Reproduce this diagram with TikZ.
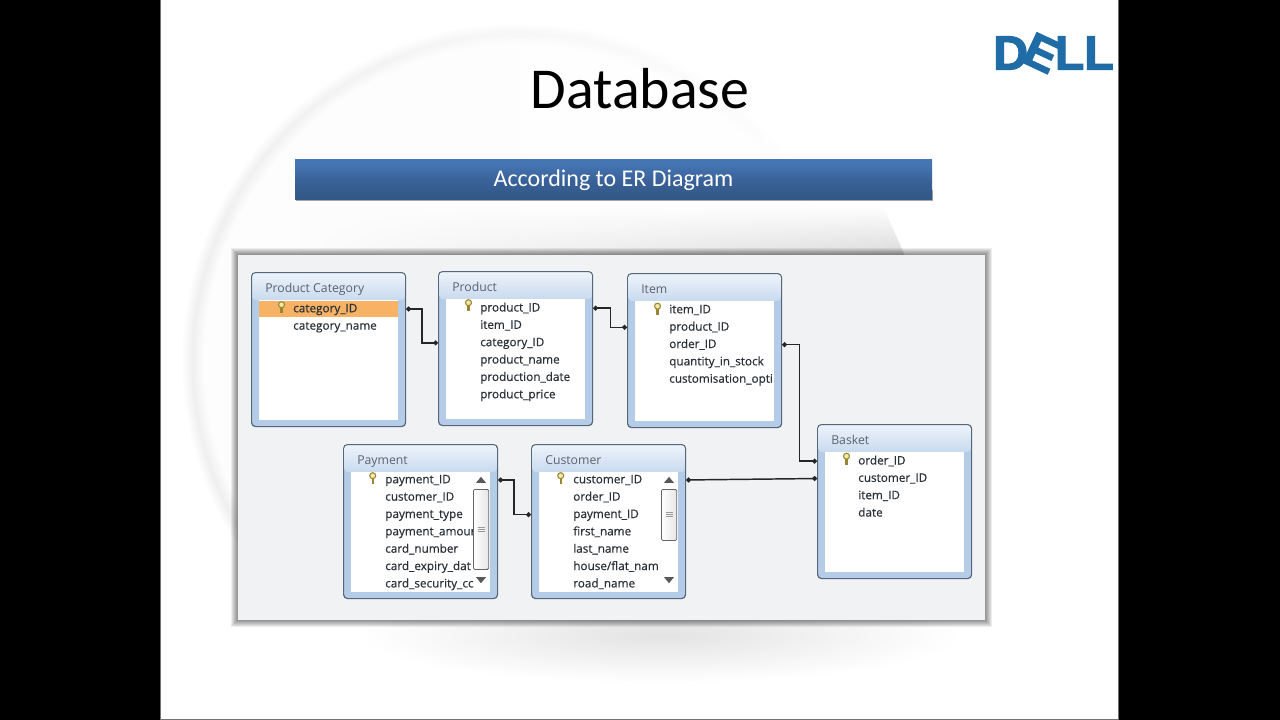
\documentclass[tikz,border=0pt]{standalone}
\usepackage{fontspec}
\setmainfont{Carlito}
\newfontfamily\fieldfont[FakeBold=0.5]{Open Sans}
\newfontfamily\titlefont{Open Sans}
\newfontfamily\logofont[FakeBold=2.5]{Liberation Sans Bold}
\usetikzlibrary{shapes.geometric, arrows.meta, positioning, fit, backgrounds, fadings}
\definecolor{slidepale}{HTML}{FDFDFD}
\definecolor{ringgray}{HTML}{EFEFEF}
\definecolor{panelgray}{HTML}{F1F2F3}
\definecolor{winedge}{HTML}{56677A}
\definecolor{winblue}{HTML}{B5CCE8}
\definecolor{headtop}{HTML}{EDF3FA}
\definecolor{headlow}{HTML}{C9DAEF}
\definecolor{fieldink}{HTML}{2B3138}
\definecolor{titleink}{HTML}{5C636C}
\definecolor{selorange}{HTML}{F7B264}
\definecolor{dellblue}{HTML}{1F6CA6}
\definecolor{keygold}{HTML}{9A8530}
\definecolor{keypale}{HTML}{F3E9A6}
\definecolor{bannerhi}{HTML}{4677B5}
\definecolor{bannermid}{HTML}{3A6299}
\definecolor{bannerlow}{HTML}{325784}
\pgfdeclareverticalshading{bannershade}{100bp}{color(0bp)=(bannerlow); color(25bp)=(bannerlow); color(50bp)=(bannermid); color(72bp)=(bannerhi); color(90bp)=(bannerhi); color(100bp)=(bannermid)}
\pgfdeclareradialshading{ringshade}{\pgfpointorigin}{color(0bp)=(slidepale); color(23.4bp)=(slidepale); color(24.3bp)=(ringgray); color(25bp)=(slidepale); color(50bp)=(slidepale)}

\begin{document}
\begin{tikzpicture}[
    x=0.75pt, y=-0.75pt,
    winbox/.style={rectangle, draw=winedge, line width=0.9pt, fill=winblue, rounded corners=3pt, minimum width=115.5pt, minimum height=115.5pt, anchor=north west, inner sep=0pt},
    winhead/.style={rectangle, top color=headtop, bottom color=headlow, rounded corners=2.5pt, minimum width=114.5pt, minimum height=20pt, anchor=north west, inner sep=0pt},
    winbody/.style={rectangle, fill=white, minimum width=104pt, minimum height=90pt, anchor=north west, inner sep=0pt},
    wintitle/.style={anchor=base west, inner sep=0pt, font=\titlefont\fontsize{9.2}{10}\selectfont, text=titleink},
    field/.style={anchor=base west, inner sep=0pt, text height=7pt, text depth=2pt, font=\fieldfont\fontsize{8.8}{10}\selectfont, text=fieldink},
    scrollthumb/.style={rectangle, draw=gray!80!black, line width=0.6pt, left color=white, right color=gray!20, rounded corners=1pt, minimum width=11.5pt, anchor=north west, inner sep=0pt},
    scrollarrow/.style={isosceles triangle, isosceles triangle stretches, fill=black!65, inner sep=0pt, minimum width=7.5pt, minimum height=4.5pt, shape border rotate=90},
    link/.style={draw=black!85, line width=1.1pt, {Circle[length=3.6pt, width=3.6pt]}-{Circle[length=3.6pt, width=3.6pt]}}
]
    \useasboundingbox (0,0) rectangle (1280,720);

    % --- Slide ---
    \fill [black] (0,0) rectangle (1280,720);
    \fill [white] (160,0) rectangle (1119,720);
    \begin{scope}
        \clip (160,0) rectangle (1119,540);
        \shade [shading=ringshade, path fading=east] (520,360) circle [radius=337];
    \end{scope}
    \begin{scope}
        \clip (160,0) rectangle (1119,720);
        \shade [inner color=black!11, outer color=white] (660,635) ellipse [x radius=300, y radius=48];
        \shade [top color=white, bottom color=black!14, path fading=west] (300,205) -- (883,205) -- (905,255) -- (300,255) -- cycle;
    \end{scope}
    \draw [black!55, line width=0.75pt] (160.5,0) -- (160.5,719) -- (1118.5,719) -- (1118.5,0);

    \node [font=\fontsize{43.4}{48}\selectfont] (heading) at (640,89) {Database};
    \fill [black!35] (296,190) rectangle (933,201.5);
    \node [minimum width=477.75pt, minimum height=30pt, inner sep=0pt, shading=bannershade, text=white, font=\fontsize{18}{20}\selectfont] (banner) at (613.5,180) {\raisebox{-1pt}{According to ER Diagram}};

    % --- Logo ---
    \node [text=dellblue, inner sep=0pt, font=\logofont\fontsize{36}{40}\selectfont] (logo) at (1053.5,53) {\scalebox{1.0}[1]{D\kern-6pt\rotatebox[origin=c]{-25}{E}\kern-6pt LL}};

    % --- Panel ---
    \foreach \d in {1,...,7}
        \fill [black, opacity=0.07] ({238-\d},{255-\d}) rectangle ({985+\d},{620+\d});
    \node [rectangle, fill=panelgray, anchor=north west, minimum width=560.25pt, minimum height=273.75pt, inner sep=0pt] (panel) at (238,255) {};

    % --- Windows ---
    \foreach \id/\wintext/\x/\y in {pcat/Product Category/251/272, prod/Product/438/271, item/Item/627/273, bask/Basket/817/424, pay/Payment/343/444, cust/Customer/531/444} {
        \node [winbox] (\id) at (\x,\y) {};
        \node [winhead] (\id head) at (\x+1,\y+1) {};
        \node [winbody] (\id body) at (\x+8,\y+27.5) {};
        \node [wintitle] (\id title) at (\x+14,\y+20.7) {\wintext};
    }

    % selected row
    \node [rectangle, fill=selorange, anchor=north west, minimum width=104pt, minimum height=12pt, inner sep=0pt] (pcatsel) at (259,301) {};

    % --- Fields ---
    \foreach \txt [count=\i] in {category\_ID, category\_name}
        \node [field] (pcat\i) at (293,{312.3+(\i-1)*17.35}) {\txt};
    \foreach \txt [count=\i] in {product\_ID, item\_ID, category\_ID, product\_name, production\_date, product\_price}
        \node [field] (prod\i) at (480,{311.5+(\i-1)*17.35}) {\txt};
    \foreach \txt [count=\i] in {item\_ID, product\_ID, order\_ID, quantity\_in\_stock, customisation\_opti}
        \node [field] (item\i) at (669,{313.3+(\i-1)*17.35}) {\txt};
    \foreach \txt [count=\i] in {order\_ID, customer\_ID, item\_ID, date}
        \node [field] (bask\i) at (858,{464.5+(\i-1)*17.35}) {\txt};
    \foreach \txt [count=\i] in {payment\_ID, customer\_ID, payment\_type, payment\_amour, card\_number, card\_expiry\_dat, card\_security\_cc}
        \node [field] (pay\i) at (385,{483.3+(\i-1)*17.35}) {\txt};
    \foreach \txt [count=\i] in {customer\_ID, order\_ID, payment\_ID, first\_name, last\_name, house/flat\_nam, road\_name}
        \node [field] (cust\i) at (573,{483.3+(\i-1)*17.35}) {\txt};

    % --- Key icons ---
    \foreach \kx/\ky in {281.5/307.5, 468.5/305.5, 657.5/309, 846.5/459, 372.7/478.5, 560.7/478.5} {
        \draw [keygold, line width=1.6pt] (\kx,\ky-1) -- (\kx,\ky+5.5);
        \draw [keygold, line width=0.8pt, fill=keypale] (\kx,\ky-2.8) circle [radius=3];
    }

    % --- Scroll bars ---
    \foreach \sx/\sh in {473/80, 661/51} {
        \node [scrollthumb, minimum height=\sh*0.75pt] (thumb\sx) at (\sx,489) {};
        \node [scrollarrow] (up\sx) at (\sx+8,480.5) {};
        \node [scrollarrow, shape border rotate=270] (down\sx) at (\sx+8,579.5) {};
        \foreach \gy in {-2,0,2}
            \draw [black!40, line width=0.4pt] (\sx+4.5,{489+\sh/2+\gy}) -- (\sx+11.5,{489+\sh/2+\gy});
    }

    % --- Connections ---
    \draw [link] (pcat.east |- pcat1) -- ++(16,0) |- (prod.west |- prod3);
    \draw [link] (prod.east |- prod1) -- ++(17.5,0) |- (item.west |- item2);
    \draw [link] (item.east |- item3) -- ++(17.5,0) |- (bask.west |- bask1);
    \draw [link] (pay.east |- pay1) -- ++(16,0) |- (cust.west |- cust3);
    \draw [link] (cust.east |- cust1) -- (bask.west |- bask2);

\end{tikzpicture}
\end{document}
